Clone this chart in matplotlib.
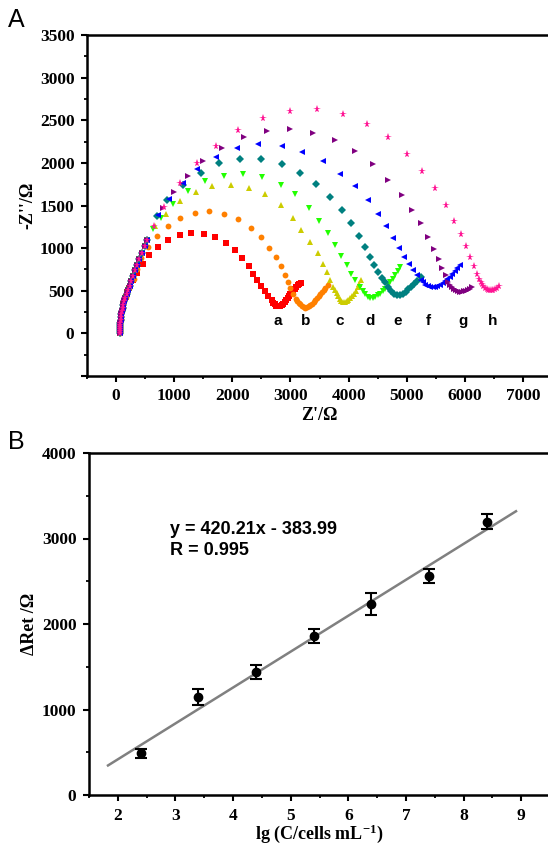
import numpy as np
import matplotlib
matplotlib.use("Agg")
import matplotlib.pyplot as plt
from matplotlib.ticker import MultipleLocator, FuncFormatter

plt.rcParams['font.family'] = ['Liberation Serif', 'DejaVu Serif']
plt.rcParams['mathtext.fontset'] = 'custom'
plt.rcParams['mathtext.rm'] = 'Liberation Serif:bold'
plt.rcParams['mathtext.it'] = 'Liberation Serif:bold'
plt.rcParams['mathtext.bf'] = 'Liberation Serif:bold'
plt.rcParams['axes.unicode_minus'] = False

# ---- panel A: Nyquist plots (Z', -Z'') ----
# high frequency part, shared by curves c-h
head_re = [60, 61, 63, 65, 68, 72, 77, 83, 91, 100, 111, 124, 140, 158, 180, 205, 232, 260, 290, 322, 358, 398, 442, 490, 540]
head_im = [5, 25, 48, 72, 98, 126, 156, 188, 222, 258, 296, 336, 378, 420, 462, 508, 560, 612, 672, 738, 800, 870, 945, 1020, 1090]

a_re = [60, 61, 63, 65, 68, 72, 77, 83, 91, 100, 112, 127, 145, 167, 195, 230, 297, 360, 458, 572, 726, 897, 1093, 1291, 1509,
        1703, 1887, 2041, 2173, 2281, 2362, 2430, 2499, 2560, 2619, 2675, 2705, 2732, 2760, 2790, 2818, 2847, 2875, 2903,
        2930, 2955, 2978, 3001, 3025, 3048, 3074, 3099, 3125, 3150, 3185]
a_im = [5, 25, 48, 72, 98, 126, 156, 188, 222, 258, 298, 340, 385, 432, 480, 535, 623, 709, 814, 917, 1014, 1101, 1155, 1178, 1166,
        1128, 1057, 975, 884, 790, 701, 623, 556, 494, 438, 388, 362, 341, 326, 317, 320, 329, 346, 368,
        392, 415, 438, 462, 484, 505, 525, 544, 565, 584, 596]

b_re = [60, 61, 63, 65, 68, 72, 77, 83, 91, 100, 112, 127, 145, 167, 195, 230, 300, 360, 429, 554, 703, 887, 1103, 1355, 1607,
        1864, 2104, 2315, 2487, 2629, 2744, 2830, 2898, 2955, 3001, 3048, 3092, 3120, 3144, 3172, 3202, 3230, 3259, 3288,
        3315, 3345, 3373, 3400, 3430, 3458, 3487, 3515, 3545, 3575, 3602, 3641]
b_im = [5, 25, 48, 72, 98, 126, 156, 188, 222, 258, 298, 340, 385, 432, 480, 535, 640, 760, 889, 1014, 1140, 1254, 1351, 1410, 1430,
        1398, 1336, 1237, 1128, 1007, 897, 791, 690, 603, 532, 466, 408, 382, 361, 340, 321, 309, 302, 307,
        317, 332, 349, 368, 388, 410, 435, 460, 485, 508, 532, 572]

c_re = [674, 858, 1098, 1367, 1658, 1972, 2281, 2560, 2830, 3036, 3190, 3344, 3469, 3562, 3624, 3675, 3735, 3765, 3795, 3825,
        3850, 3878, 3905, 3935, 3965, 3995, 4030, 4060, 4090, 4120, 4155, 4185, 4214]
c_im = [1257, 1406, 1551, 1660, 1727, 1739, 1704, 1630, 1504, 1359, 1218, 1073, 944, 819, 720, 623, 544, 505, 470, 436,
        408, 385, 370, 368, 376, 392, 412, 438, 466, 500, 544, 583, 623]

d_re = [640, 772, 983, 1240, 1531, 1857, 2190, 2516, 2830, 3087, 3315, 3494, 3641, 3773, 3876, 3974, 4047, 4116, 4190, 4240,
        4288, 4330, 4373, 4415, 4459, 4500, 4545, 4590, 4631, 4675, 4716, 4760, 4802, 4845, 4888]
d_im = [1230, 1359, 1516, 1672, 1782, 1848, 1865, 1829, 1739, 1637, 1465, 1316, 1179, 1034, 905, 799, 701, 623, 544, 500,
        466, 430, 410, 412, 427, 445, 466, 495, 525, 562, 603, 640, 681, 730, 779]

e_re = [700, 880, 1149, 1453, 1778, 2132, 2487, 2847, 3161, 3447, 3675, 3888, 4042, 4172, 4288, 4373, 4442, 4505, 4574, 4631,
        4680, 4730, 4780, 4831, 4880, 4930, 4980, 5030, 5080, 5130, 5180, 5243]
e_im = [1380, 1560, 1735, 1884, 1994, 2045, 2045, 1982, 1884, 1747, 1602, 1442, 1289, 1143, 1014, 897, 799, 720, 654, 600,
        545, 500, 465, 446, 450, 466, 490, 515, 545, 575, 610, 662]

f_re = [715, 914, 1149, 1401, 1715, 2075, 2447, 2847, 3202, 3555, 3847, 4116, 4334, 4505, 4648, 4773, 4871, 4962, 5047, 5116,
        5184, 5243, 5280, 5317, 5360, 5402, 5445, 5488, 5530, 5574, 5617, 5660, 5702, 5745, 5788, 5831, 5874, 5917]
f_im = [1387, 1575, 1763, 1927, 2072, 2177, 2221, 2201, 2130, 2025, 1868, 1727, 1559, 1402, 1257, 1120, 1002, 897, 811, 740,
        681, 623, 597, 572, 556, 544, 543, 549, 558, 572, 590, 611, 635, 662, 695, 729, 763, 799]

g_re = [801, 990, 1230, 1504, 1830, 2200, 2590, 2989, 3390, 3773, 4116, 4420, 4670, 4917, 5088, 5243, 5373, 5471, 5551, 5613,
        5671, 5716, 5750, 5780, 5815, 5848, 5880, 5917, 5950, 5985, 6020, 6054, 6085, 6117]
g_im = [1472, 1653, 1845, 2021, 2177, 2300, 2377, 2393, 2353, 2268, 2139, 1982, 1798, 1622, 1445, 1289, 1132, 995, 878, 767,
        682, 603, 570, 540, 520, 505, 492, 485, 488, 494, 502, 511, 525, 544]

h_re = [650, 820, 1098, 1384, 1715, 2104, 2533, 3001, 3459, 3905, 4317, 4687, 5003, 5270, 5488, 5671, 5814, 5929, 6020, 6088,
        6157, 6203, 6248, 6270, 6294, 6320, 6346, 6374, 6402, 6434, 6466, 6490, 6517, 6555, 6591]
h_im = [1260, 1480, 1759, 1994, 2201, 2385, 2526, 2609, 2628, 2573, 2459, 2300, 2107, 1904, 1700, 1504, 1324, 1167, 1026, 897,
        791, 701, 635, 605, 576, 550, 529, 515, 505, 503, 505, 510, 517, 532, 552]

curve_labels = ['a', 'b', 'c', 'd', 'e', 'f', 'g', 'h']
label_x = [2780, 3260, 3840, 4370, 4850, 5370, 5970, 6480]
label_y = 150

# ---- panel B: calibration ----
lg_c = [2.4, 3.4, 4.4, 5.4, 6.4, 7.4, 8.4]
d_ret = [488, 1143, 1435, 1860, 2230, 2561, 3197]
d_ret_err = [55, 95, 82, 78, 130, 78, 84]
fit_range = [1.83, 8.91]

fig = plt.figure(figsize=(5.48, 8.5), dpi=100)
W, H = 548.0, 850.0
axA = fig.add_axes([87 / W, 1 - 376 / H, (552 - 87) / W, (376 - 35) / H])
axB = fig.add_axes([89 / W, 1 - 795 / H, (550 - 89) / W, (795 - 453) / H])

series = [
    (a_re, a_im, 's', '#FF0000', 3.8),
    (b_re, b_im, 'o', '#FF8000', 4.2),
    (head_re + c_re, head_im + c_im, '^', '#CCCC00', 4.8),
    (head_re + d_re, head_im + d_im, 'v', '#22FF00', 4.8),
    (head_re + e_re, head_im + e_im, 'D', '#008080', 3.8),
    (head_re + f_re, head_im + f_im, '<', '#0000FF', 4.8),
    (head_re + g_re, head_im + g_im, '>', '#800080', 4.8),
    (head_re + h_re, head_im + h_im, '*', '#FF1493', 5.8),
]
for zr, zi, m, col, ms in series:
    axA.plot(zr, zi, linestyle='none', marker=m, color=col, markersize=ms, markeredgewidth=0)

for lab, lx in zip(curve_labels, label_x):
    axA.text(lx, label_y, lab, family='Liberation Sans', fontweight='bold', fontsize=11,
             ha='center', va='center')

axA.set_xlim(-500, 7500)
axA.set_ylim(-500, 3500)
axA.xaxis.set_major_locator(MultipleLocator(1000))
axA.xaxis.set_minor_locator(MultipleLocator(500))
axA.yaxis.set_major_locator(MultipleLocator(500))
axA.yaxis.set_minor_locator(MultipleLocator(250))
# no label on the -500 ticks
axA.xaxis.set_major_formatter(FuncFormatter(lambda v, p: '' if v < 0 else '%d' % v))
axA.yaxis.set_major_formatter(FuncFormatter(lambda v, p: '' if v < 0 else '%d' % v))
axA.set_xlabel("Z'/Ω", fontsize=13, fontweight='bold')
axA.set_ylabel("-Z''/Ω", fontsize=13, fontweight='bold')
axA.xaxis.set_label_coords(0.50, -0.09)
axA.yaxis.set_label_coords(-0.108, 0.5)

fit = np.polyfit(lg_c, d_ret, 1)
fx = np.array(fit_range)
axB.plot(fx, np.polyval(fit, fx), color='#808080', lw=1.8, zorder=1)
axB.errorbar(lg_c, d_ret, yerr=d_ret_err, fmt='o', color='black', ms=6,
             elinewidth=1.5, capsize=4.5, capthick=1.5, zorder=2)
axB.text(2.9, 3100, 'y = 420.21x - 383.99', family='Liberation Sans',
         fontweight='bold', fontsize=13, ha='left', va='center')
axB.text(2.9, 2860, 'R = 0.995', family='Liberation Sans',
         fontweight='bold', fontsize=13, ha='left', va='center')

axB.set_xlim(1.5, 9.5)
axB.set_ylim(0, 4000)
axB.xaxis.set_major_locator(MultipleLocator(1))
axB.xaxis.set_minor_locator(MultipleLocator(0.5))
axB.yaxis.set_major_locator(MultipleLocator(1000))
axB.yaxis.set_minor_locator(MultipleLocator(500))
axB.set_xlabel('lg (C/cells mL$^{-1}$)', fontsize=13, fontweight='bold')
axB.set_ylabel('ΔRet /Ω', fontsize=13, fontweight='bold')
axB.xaxis.set_label_coords(0.50, -0.08)
axB.yaxis.set_label_coords(-0.11, 0.5)

for ax in (axA, axB):
    for sp in ax.spines.values():
        sp.set_linewidth(1.8)
    ax.tick_params(which='major', direction='out', length=4, width=1.5, labelsize=12.5, pad=5)
    ax.tick_params(which='minor', direction='out', length=2.5, width=1.3)
    ax.tick_params(top=False, right=False)
    for t in ax.get_xticklabels() + ax.get_yticklabels():
        t.set_fontweight('bold')

fig.text(16 / W, 1 - 20 / H, 'A', family='Liberation Sans', fontsize=18, ha='center', va='center')
fig.text(16 / W, 1 - 442 / H, 'B', family='Liberation Sans', fontsize=18, ha='center', va='center')

fig.savefig('out.png', dpi=100)
